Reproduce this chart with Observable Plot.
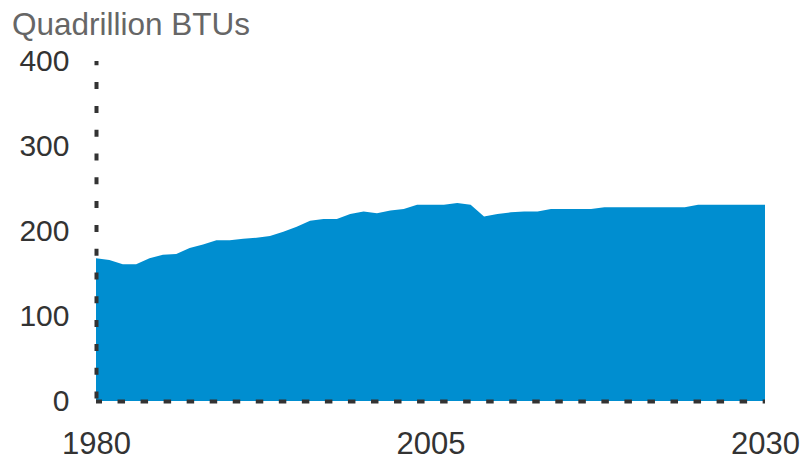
<!DOCTYPE html>
<html>
<head>
<meta charset="utf-8">
<script src="https://cdn.jsdelivr.net/npm/d3@7"></script>
<script src="https://cdn.jsdelivr.net/npm/@observablehq/plot@0.6"></script>
<style>
  html, body { margin: 0; padding: 0; background: #fff; }
  #wrap { position: relative; width: 801px; height: 460px; }
  #title { position: absolute; left: 12px; top: 9px; font-family: "Liberation Sans", Arial, sans-serif;
           font-size: 31.5px; line-height: 31px; color: #666; white-space: nowrap; }
</style>
</head>
<body>
<div id="wrap"><div id="title">Quadrillion BTUs</div></div>
<script>
const years = [1980,1981,1982,1983,1984,1985,1986,1987,1988,1989,
  1990,1991,1992,1993,1994,1995,1996,1997,1998,1999,
  2000,2001,2002,2003,2004,2005,2006,2007,2008,2009,
  2010,2011,2012,2013,2014,2015,2016,2017,2018,2019,
  2020,2021,2022,2023,2024,2025,2026,2027,2028,2029,2030];
const values = [168,166,161,161,168,172,173,180,184,189,
  189,191,192,194,199,205,212,214,214,220,
  223,221,224,226,231,231,231,233,231,217,
  220,222,223,223,226,226,226,226,228,228,
  228,228,228,228,228,231,231,231,231,231,231];
const xTicks = [1980, 2005, 2030];
const yTicks = [0, 100, 200, 300, 400];

const data = years.map((y, i) => ({year: y, value: values[i]}));

const chart = Plot.plot({
  width: 801,
  height: 460,
  marginTop: 61,
  marginBottom: 59,
  marginLeft: 96,
  marginRight: 36,
  style: {fontFamily: "'Liberation Sans', Arial, sans-serif", background: "transparent", color: "#333", overflow: "visible"},
  x: {domain: [1980, 2030]},
  y: {domain: [0, 400]},
  marks: [
    Plot.areaY(data, {x: "year", y: "value", fill: "#008ED0"}),
    Plot.ruleY([0], {stroke: "#333", strokeWidth: 4, strokeDasharray: "7.5,15.54", strokeDashoffset: 1.5}),
    Plot.ruleX([1980], {y1: 400, y2: 0, stroke: "#333", strokeWidth: 4, strokeDasharray: "7,16.8", strokeDashoffset: 2.7}),
    Plot.axisX({ticks: xTicks, tickFormat: d => String(d), tickSize: 0, tickPadding: 30, fontSize: 31, fill: "#333", label: null}),
    Plot.axisY({ticks: yTicks, tickSize: 0, tickPadding: 27, fontSize: 30, fill: "#333", label: null})
  ]
});
document.getElementById("wrap").appendChild(chart);
chart.style.position = "absolute";
chart.style.left = "0";
chart.style.top = "0";
</script>
</body>
</html>
